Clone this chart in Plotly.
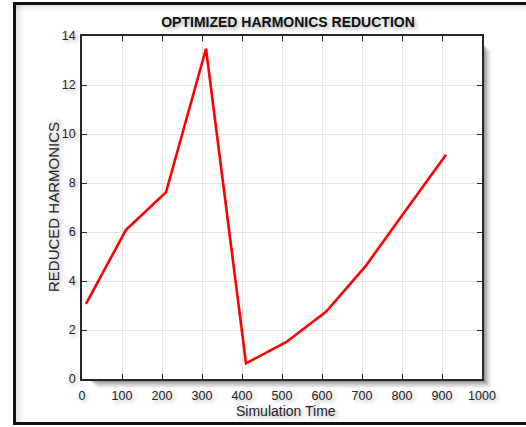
import plotly.graph_objects as go

sim_time = [10, 110, 210, 310, 410, 510, 610, 710, 810, 910]
reduced_harmonics = [3.07, 6.09, 7.62, 13.48, 0.64, 1.50, 2.74, 4.63, 6.9, 9.15]
x_ticks = [0, 100, 200, 300, 400, 500, 600, 700, 800, 900, 1000]
y_ticks = [0, 2, 4, 6, 8, 10, 12, 14]

W, H = 526, 427
L, R, T, B = 82, 44, 36, 48
PW, PH = W - L - R, H - T - B

def px(x):
    return (x - L) / PW

def py(y):
    return (H - B - y) / PH

shadow = "2px 2px 4px rgba(0,0,0,0.35)"
font_main = "Liberation Sans, Arial, sans-serif"

fig = go.Figure()
fig.add_trace(go.Scatter(
    x=sim_time, y=reduced_harmonics, mode="lines",
    line=dict(color="#ff0000", width=2.6), showlegend=False, hoverinfo="x+y"))

shapes = []
# plot area drop shadow (right and bottom)
for i, a in enumerate([0.10, 0.10, 0.10, 0.09, 0.08, 0.06, 0.05, 0.04, 0.03, 0.02]):
    off = i + 1
    shapes.append(dict(type="rect", xref="paper", yref="paper",
                       x0=px(L + PW), x1=px(L + PW + off),
                       y0=py(T + 6 + off), y1=py(T + PH + off),
                       fillcolor=f"rgba(0,0,0,{a})", line=dict(width=0), layer="below"))
    shapes.append(dict(type="rect", xref="paper", yref="paper",
                       x0=px(L + 6 + off), x1=px(L + PW),
                       y0=py(T + PH), y1=py(T + PH + off),
                       fillcolor=f"rgba(0,0,0,{a})", line=dict(width=0), layer="below"))
# inner frame shadow
for i, a in enumerate([0.12, 0.08, 0.05, 0.03, 0.015]):
    shapes.append(dict(type="line", xref="paper", yref="paper",
                       x0=px(16), x1=px(530), y0=py(5 + i * 1.5), y1=py(5 + i * 1.5),
                       line=dict(color=f"rgba(0,0,0,{a})", width=1.5), layer="below"))
    shapes.append(dict(type="line", xref="paper", yref="paper",
                       x0=px(17 + i * 1.5), x1=px(17 + i * 1.5), y0=py(5), y1=py(422),
                       line=dict(color=f"rgba(0,0,0,{a})", width=1.5), layer="below"))
# outer black frame
shapes.append(dict(type="rect", xref="paper", yref="paper",
                   x0=px(14.5), x1=px(540), y0=py(423.5), y1=py(3.5),
                   line=dict(color="#111111", width=3), fillcolor="rgba(0,0,0,0)",
                   layer="above"))

annotations = [
    dict(text="Simulation Time", xref="paper", yref="paper",
         x=px(286), y=py(411), xanchor="center", yanchor="middle", showarrow=False,
         font=dict(size=14, color="#262626", family=font_main, shadow=shadow)),
    dict(text="REDUCED HARMONICS", xref="paper", yref="paper", textangle=-90,
         x=px(54), y=py(207), xanchor="center", yanchor="middle", showarrow=False,
         font=dict(size=15, color="#262626", family=font_main, shadow=shadow)),
]

fig.update_layout(
    width=W, height=H,
    margin=dict(l=L, r=R, t=T, b=B, pad=0, autoexpand=False),
    paper_bgcolor="white", plot_bgcolor="white",
    font=dict(family=font_main, size=12, color="#262626"),
    shapes=shapes, annotations=annotations,
    title=dict(text="<b>OPTIMIZED HARMONICS REDUCTION</b>",
               xref="container", yref="container",
               x=288 / W, xanchor="center", y=1 - 22 / H, yanchor="middle",
               font=dict(size=14, color="#111111", family=font_main, shadow=shadow)),
    xaxis=dict(range=[0, 1000], tickvals=x_ticks, ticktext=[str(v) for v in x_ticks],
               ticks="inside", ticklen=5, tickwidth=1.2, tickcolor="#262626",
               showline=True, linecolor="#262626", linewidth=1.5, mirror="ticks",
               showgrid=True, gridcolor="#e3e3e3", gridwidth=1, zeroline=False,
               ticklabelstandoff=4, automargin=False,
               tickfont=dict(size=12.5, color="#262626", shadow=shadow)),
    yaxis=dict(range=[0, 14], tickvals=y_ticks, ticktext=[str(v) for v in y_ticks],
               ticks="inside", ticklen=5, tickwidth=1.2, tickcolor="#262626",
               showline=True, linecolor="#262626", linewidth=1.5, mirror="ticks",
               showgrid=True, gridcolor="#e3e3e3", gridwidth=1, zeroline=False,
               ticklabelstandoff=2, automargin=False,
               tickfont=dict(size=12.5, color="#262626", shadow=shadow)),
)

fig.write_html("out.html", config={"displayModeBar": False},
               post_script="document.body.style.margin='0';document.body.style.overflow='hidden';")
